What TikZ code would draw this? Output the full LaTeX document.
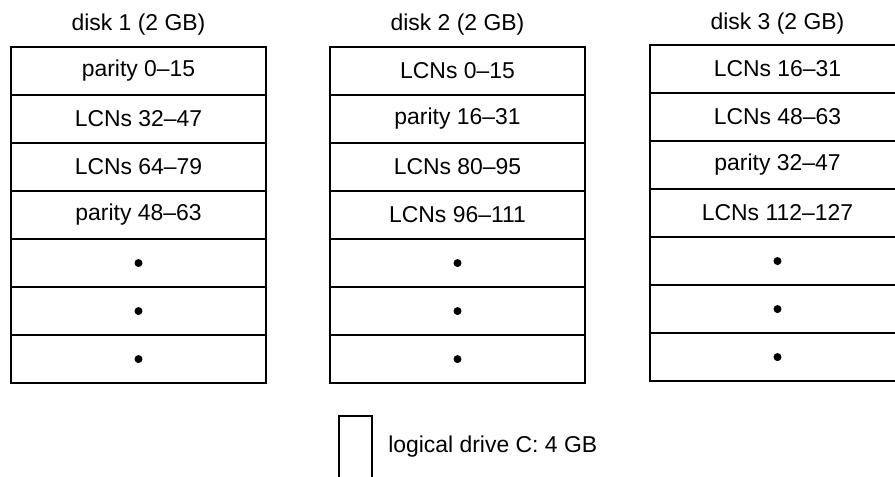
\documentclass[tikz,border=0pt]{standalone}
\usepackage{fontspec}
\setmainfont{Liberation Sans}
\usetikzlibrary{positioning}
\tikzset{
  cell/.style={draw, line width=1pt, minimum width=6.375cm, minimum height=1.2cm, inner sep=0pt, outer sep=0pt},
  legbox/.style={draw, line width=1pt, minimum width=0.825cm, minimum height=2cm, inner sep=0pt, outer sep=0pt},
}

\begin{document}
\begin{tikzpicture}[x=0.025cm, y=-0.025cm, font=\fontsize{16.3}{19}\selectfont]
  \path[use as bounding box, fill=white] (0,0) rectangle (895,476);
  \clip (0,0) rectangle (895,476);

  % Disk 1
  \node (title1) at (138.5,25) {disk 1 (2 GB)};
  \node[cell] (d1r1) at (138.5,71) {parity 0--15};
  \node[cell, below=0pt of d1r1] (d1r2) {LCNs 32--47};
  \node[cell, below=0pt of d1r2] (d1r3) {LCNs 64--79};
  \node[cell, below=0pt of d1r3] (d1r4) {parity 48--63};
  \node[cell, below=0pt of d1r4] (d1r5) {};
  \node[cell, below=0pt of d1r5] (d1r6) {};
  \node[cell, below=0pt of d1r6] (d1r7) {};

  % Disk 2
  \node (title2) at (457.5,25) {disk 2 (2 GB)};
  \node[cell] (d2r1) at (457.5,71) {LCNs 0--15};
  \node[cell, below=0pt of d2r1] (d2r2) {parity 16--31};
  \node[cell, below=0pt of d2r2] (d2r3) {LCNs 80--95};
  \node[cell, below=0pt of d2r3] (d2r4) {LCNs 96--111};
  \node[cell, below=0pt of d2r4] (d2r5) {};
  \node[cell, below=0pt of d2r5] (d2r6) {};
  \node[cell, below=0pt of d2r6] (d2r7) {};

  % Disk 3
  \node (title3) at (777.5,24) {disk 3 (2 GB)};
  \node[cell] (d3r1) at (777.5,69) {LCNs 16--31};
  \node[cell, below=0pt of d3r1] (d3r2) {LCNs 48--63};
  \node[cell, below=0pt of d3r2] (d3r3) {parity 32--47};
  \node[cell, below=0pt of d3r3] (d3r4) {LCNs 112--127};
  \node[cell, below=0pt of d3r4] (d3r5) {};
  \node[cell, below=0pt of d3r5] (d3r6) {};
  \node[cell, below=0pt of d3r6] (d3r7) {};

  % dots in the empty rows
  \foreach \d in {1,2,3}
    \foreach \r in {5,6,7}
      \fill (d\d r\r) circle[radius=0.1cm];

  % Legend
  \node[legbox, anchor=north] (legend) at (355.5,416) {};
  \node[anchor=west, inner sep=0pt] (legendtxt) at (388,447) {logical drive C: 4 GB};
\end{tikzpicture}
\end{document}
